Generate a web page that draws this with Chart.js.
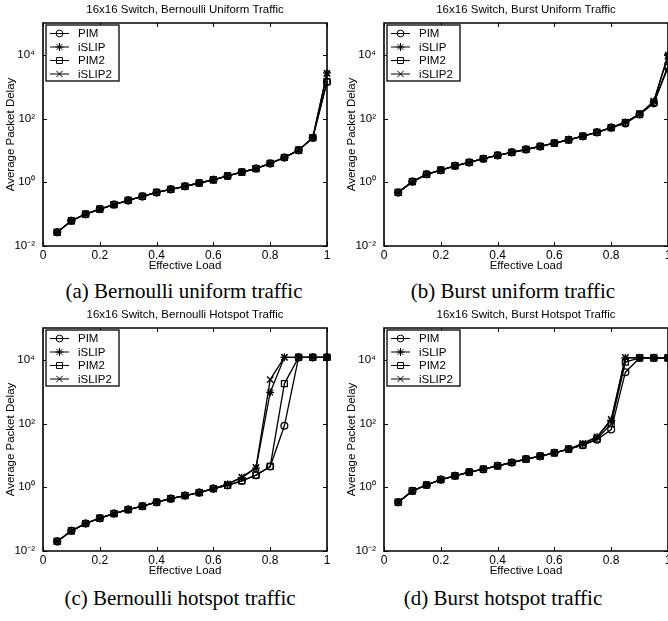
<!DOCTYPE html>
<html><head><meta charset="utf-8">
<script src="https://cdn.jsdelivr.net/npm/chart.js@4.4.0/dist/chart.umd.min.js"></script>
<style>
html,body{margin:0;padding:0;background:#fff;overflow:hidden;width:668px;height:621px;position:relative;}
canvas{position:absolute;display:block;}
.cap{position:absolute;font-family:"Liberation Serif","Times New Roman",serif;font-size:21px;color:#000;white-space:nowrap;transform:translate(-50%,-50%);line-height:1;}
</style></head><body>
<canvas id="ca" width="334" height="276" style="left:0;top:0"></canvas>
<canvas id="cb" width="334" height="276" style="left:341px;top:0"></canvas>
<canvas id="cc" width="334" height="276" style="left:0;top:305px"></canvas>
<canvas id="cd" width="334" height="276" style="left:341px;top:305px"></canvas>
<div class="cap" id="capa" style="left:184px;top:291px"></div>
<div class="cap" id="capb" style="left:513px;top:291px"></div>
<div class="cap" id="capc" style="left:180px;top:598px"></div>
<div class="cap" id="capd" style="left:503px;top:598px"></div>
<script>
// ---------- data ----------
const loads = [0.05,0.10,0.15,0.20,0.25,0.30,0.35,0.40,0.45,0.50,0.55,0.60,0.65,0.70,0.75,0.80,0.85,0.90,0.95,1.00];
const seriesNames = ['PIM','iSLIP','PIM2','iSLIP2'];
const xTickValues = [0,0.2,0.4,0.6,0.8,1];
const xTickLabels = ['0','0.2','0.4','0.6','0.8','1'];
const yTickValues = [1e-2,1e0,1e2,1e4];
const yTickLabels = ['10\u207B\u00B2','10\u2070','10\u00B2','10\u2074'];
const xAxisTitle = 'Effective Load';
const yAxisTitle = 'Average Packet Delay';
const panelTitles = ['16x16 Switch, Bernoulli Uniform Traffic','16x16 Switch, Burst Uniform Traffic','16x16 Switch, Bernoulli Hotspot Traffic','16x16 Switch, Burst Hotspot Traffic'];
const captions = ['(a) Bernoulli uniform traffic','(b) Burst uniform traffic','(c) Bernoulli hotspot traffic','(d) Burst hotspot traffic'];

// (a) Bernoulli uniform
const aPIM    = [0.027,0.062,0.10,0.144,0.20,0.27,0.36,0.48,0.60,0.75,0.95,1.2,1.58,2.1,2.7,3.9,6.0,10.2,25,1400];
const aISLIP  = [0.027,0.062,0.10,0.144,0.20,0.27,0.36,0.48,0.60,0.75,0.95,1.2,1.58,2.1,2.7,3.9,6.0,10.2,25,2700];
const aPIM2   = [0.027,0.062,0.10,0.144,0.20,0.27,0.36,0.48,0.60,0.75,0.95,1.2,1.58,2.1,2.7,3.9,6.0,10.2,25,1450];
const aISLIP2 = [0.027,0.062,0.10,0.144,0.20,0.27,0.36,0.48,0.60,0.75,0.95,1.2,1.58,2.1,2.7,3.9,6.0,10.2,25,2600];
// (b) Burst uniform
const bPIM    = [0.48,1.05,1.78,2.4,3.3,4.2,5.5,7.0,8.7,10.7,13.3,17,21.5,28,37,52,70,135,300,4000];
const bISLIP  = [0.48,1.05,1.78,2.4,3.3,4.2,5.5,7.0,8.7,10.7,13.3,17,21.5,28,37,52,77,137,345,10000];
const bPIM2   = [0.48,1.05,1.78,2.4,3.3,4.2,5.5,7.0,8.7,10.7,13.3,17,21.5,28,37,52,74,137,320,4500];
const bISLIP2 = [0.48,1.05,1.78,2.4,3.3,4.2,5.5,7.0,8.7,10.7,13.3,17,21.5,28,37,52,77,140,350,9000];
// (c) Bernoulli hotspot
const cPIM    = [0.02,0.043,0.073,0.107,0.15,0.20,0.255,0.34,0.44,0.55,0.68,0.91,1.15,1.6,2.4,4.5,85,12000,12000,12000];
const cISLIP  = [0.02,0.043,0.073,0.107,0.15,0.20,0.255,0.34,0.44,0.55,0.68,0.91,1.25,2.0,4.0,950,12000,12000,12000,12000];
const cPIM2   = [0.02,0.043,0.073,0.107,0.15,0.20,0.255,0.34,0.44,0.55,0.68,0.91,1.15,1.6,2.4,4.5,1800,12000,12000,12000];
const cISLIP2 = [0.02,0.043,0.073,0.107,0.15,0.20,0.255,0.34,0.44,0.55,0.68,0.91,1.25,2.1,4.2,2400,12000,12000,12000,12000];
// (d) Burst hotspot
const dPIM    = [0.34,0.77,1.18,1.74,2.3,3.0,3.7,4.7,6.0,7.7,9.5,12.1,15.8,21,31,65,4100,11500,11500,11500];
const dISLIP  = [0.34,0.77,1.18,1.74,2.3,3.0,3.7,4.7,6.0,7.7,9.5,12.1,15.8,23,38,125,11500,11500,11500,11500];
const dPIM2   = [0.34,0.77,1.18,1.74,2.3,3.0,3.7,4.7,6.0,7.7,9.5,12.1,15.8,21,33,100,8500,11500,11500,11500];
const dISLIP2 = [0.34,0.77,1.18,1.74,2.3,3.0,3.7,4.7,6.0,7.7,9.5,12.1,15.8,24,38,136,12000,11500,11500,11500];

// ---------- styles ----------
const FONT = '"Liberation Sans", Arial, Helvetica, sans-serif';
const markerStyles = ['circle','star','rect','crossRot'];
const markerRadius = [3.4,4,4.2,4.5];

function drawMarker(ctx, style, x, y, r){
  ctx.beginPath();
  if(style==='circle'){ ctx.arc(x,y,r,0,Math.PI*2); }
  else if(style==='rect'){ const s=Math.SQRT1_2*r; ctx.rect(x-s,y-s,2*s,2*s); }
  else if(style==='crossRot'){ const s=Math.SQRT1_2*r; ctx.moveTo(x-s,y-s);ctx.lineTo(x+s,y+s);ctx.moveTo(x-s,y+s);ctx.lineTo(x+s,y-s); }
  else if(style==='star'){ const s=Math.SQRT1_2*r; ctx.moveTo(x,y-r);ctx.lineTo(x,y+r);ctx.moveTo(x-r,y);ctx.lineTo(x+r,y);
    ctx.moveTo(x-s,y-s);ctx.lineTo(x+s,y+s);ctx.moveTo(x-s,y+s);ctx.lineTo(x+s,y-s); }
  ctx.stroke();
}

const framePlugin = {
  id:'frame',
  afterDraw(chart){
    const ctx = chart.ctx;
    const xs = chart.scales.x, ys = chart.scales.y;
    const L = xs.left, R = xs.right, T = ys.top, B = ys.bottom;
    ctx.save();
    ctx.globalAlpha = 1;
    ctx.setLineDash([]);
    ctx.strokeStyle = '#000';
    // inward ticks
    ctx.lineWidth = 1;
    ctx.beginPath();
    xTickValues.forEach(v=>{
      const px = Math.round(xs.getPixelForValue(v)) + 0.5;
      ctx.moveTo(px,B); ctx.lineTo(px,B-4);
      ctx.moveTo(px,T); ctx.lineTo(px,T+4);
    });
    yTickValues.forEach(v=>{
      const py = Math.round(ys.getPixelForValue(v)) + 0.5;
      ctx.moveTo(L,py); ctx.lineTo(L+4,py);
      ctx.moveTo(R,py); ctx.lineTo(R-4,py);
    });
    ctx.stroke();
    // frame
    ctx.lineWidth = 1.6;
    ctx.beginPath();
    ctx.moveTo(L,T); ctx.lineTo(R,T); ctx.lineTo(R,B); ctx.lineTo(L,B); ctx.closePath();
    ctx.stroke();
    // legend
    const lx = L+3, ly = T+2, lw = 73, lh = 56;
    ctx.fillStyle = '#fff';
    ctx.fillRect(lx,ly,lw,lh);
    ctx.lineWidth = 1.3;
    ctx.strokeRect(lx,ly,lw,lh);
    ctx.font = '11.5px '+FONT;
    ctx.textBaseline = 'middle';
    ctx.textAlign = 'left';
    chart.data.datasets.forEach((ds,i)=>{
      const yy = T+10.5+13.5*i;
      ctx.lineWidth = 1;
      ctx.beginPath(); ctx.moveTo(L+7,yy); ctx.lineTo(L+26,yy); ctx.stroke();
      drawMarker(ctx, ds.pointStyle, L+16.5, yy, ds.pointRadius);
      ctx.fillStyle = '#000';
      ctx.fillText(ds.label, L+35, yy+0.5);
    });
    ctx.restore();
  }
};

function makeChart(id, title, series){
  const datasets = series.map((vals,i)=>({
    label: seriesNames[i],
    data: loads.map((x,k)=>({x:x, y:vals[k]})),
    borderColor:'#000',
    backgroundColor:'rgba(0,0,0,0)',
    borderWidth:1.3,
    pointStyle: markerStyles[i],
    pointRadius: markerRadius[i],
    pointBorderWidth:1.3,
    pointBorderColor:'#000',
    pointBackgroundColor:'rgba(0,0,0,0)',
    tension:0,
    clip:false
  }));
  return new Chart(document.getElementById(id), {
    type:'line',
    data:{datasets},
    options:{
      responsive:false,
      animation:false,
      devicePixelRatio:1,
      layout:{padding:{left:0,right:7,top:0,bottom:0}},
      plugins:{
        legend:{display:false},
        tooltip:{enabled:false},
        title:{display:true,text:title,color:'#000',fullSize:false,
          font:{family:FONT,size:11.5,weight:'normal'},padding:{top:3,bottom:6.2}}
      },
      scales:{
        x:{type:'linear',min:0,max:1,
          grid:{display:false,drawTicks:false,tickLength:0},border:{display:false},
          afterBuildTicks:s=>{s.ticks=xTickValues.map(v=>({value:v}));},
          afterFit:s=>{s.height=30;},
          ticks:{color:'#000',padding:2,maxRotation:0,autoSkip:false,
            font:{family:FONT,size:12},
            callback:(v)=>{const i=xTickValues.findIndex(t=>Math.abs(t-v)<1e-9);return i>=0?xTickLabels[i]:'';}},
          title:{display:true,text:xAxisTitle,color:'#000',font:{family:FONT,size:11.5},padding:{top:0,bottom:3.5}}
        },
        y:{type:'logarithmic',min:1e-2,max:1e5,
          grid:{display:false,drawTicks:false,tickLength:0},border:{display:false},
          afterBuildTicks:s=>{s.ticks=yTickValues.map(v=>({value:v}));},
          afterFit:s=>{s.width=43;},
          ticks:{color:'#000',padding:8,autoSkip:false,
            font:{family:FONT,size:11.5},
            callback:(v)=>{const i=yTickValues.findIndex(t=>Math.abs(Math.log10(t)-Math.log10(v))<1e-6);return i>=0?yTickLabels[i]:'';}},
          title:{display:true,text:yAxisTitle,color:'#000',font:{family:FONT,size:11.5},padding:{top:3.5,bottom:0}}
        }
      }
    },
    plugins:[framePlugin]
  });
}

makeChart('ca', panelTitles[0], [aPIM,aISLIP,aPIM2,aISLIP2]);
makeChart('cb', panelTitles[1], [bPIM,bISLIP,bPIM2,bISLIP2]);
makeChart('cc', panelTitles[2], [cPIM,cISLIP,cPIM2,cISLIP2]);
makeChart('cd', panelTitles[3], [dPIM,dISLIP,dPIM2,dISLIP2]);
['capa','capb','capc','capd'].forEach((id,i)=>{document.getElementById(id).textContent=captions[i];});
</script>
</body></html>
